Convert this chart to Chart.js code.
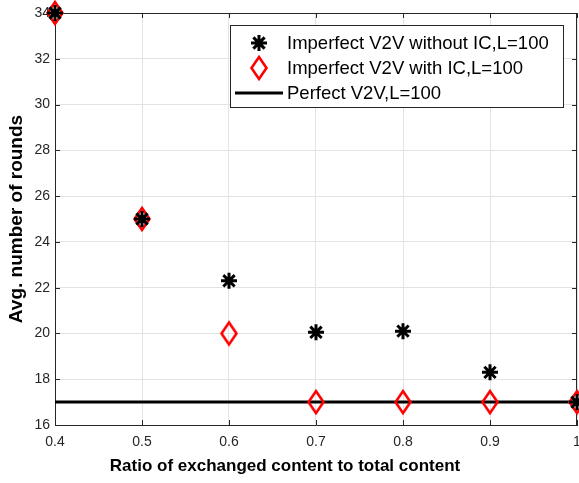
<!DOCTYPE html>
<html>
<head>
<meta charset="utf-8">
<script src="https://cdn.jsdelivr.net/npm/chart.js@4/dist/chart.umd.min.js"></script>
<style>
html,body{margin:0;padding:0;background:#fff;}
#wrap{width:579px;height:483px;position:relative;}
</style>
</head>
<body>
<div id="wrap"><canvas id="c" width="579" height="483"></canvas></div>
<script>
const xValues = [0.4, 0.5, 0.6, 0.7, 0.8, 0.9, 1.0];
const withoutIC = [34, 25, 22.3, 20.05, 20.1, 18.3, 17];
const withIC = [34, 25, 20, 17, 17, 17, 17];
const perfect = [17, 17, 17, 17, 17, 17, 17];
const xTicks = [0.4, 0.5, 0.6, 0.7, 0.8, 0.9, 1];
const yTicks = [16, 18, 20, 22, 24, 26, 28, 30, 32, 34];
const seriesLabels = ['Imperfect V2V without IC,L=100', 'Imperfect V2V with IC,L=100', 'Perfect V2V,L=100'];
const xTitle = 'Ratio of exchanged content to total content';
const yTitle = 'Avg. number of rounds';

const FONT = "'Liberation Sans', Arial, sans-serif";
const AXIS = '#262626';

function makeDiamond() {
  const c = document.createElement('canvas');
  c.width = 24; c.height = 30;
  const g = c.getContext('2d');
  g.strokeStyle = '#ff0000';
  g.lineWidth = 2.6;
  g.beginPath();
  g.moveTo(12, 4); g.lineTo(19.5, 15); g.lineTo(12, 26); g.lineTo(4.5, 15); g.closePath();
  g.stroke();
  return c;
}
const diamond = makeDiamond();

const pts = arr => xValues.map((x, i) => ({x: x, y: arr[i]}));

const frame = {
  id: 'frame',
  beforeDatasetsDraw(chart) {
    const {ctx, chartArea: a, scales} = chart;
    ctx.save();
    ctx.strokeStyle = AXIS;
    ctx.lineWidth = 1;
    ctx.beginPath();
    ctx.moveTo(a.left, a.top + 0.5); ctx.lineTo(a.right, a.top + 0.5);
    ctx.moveTo(a.right - 0.5, a.top); ctx.lineTo(a.right - 0.5, a.bottom);
    const L = 5;
    xTicks.forEach(v => {
      const px = Math.round(scales.x.getPixelForValue(v)) + 0.5;
      ctx.moveTo(px, a.bottom); ctx.lineTo(px, a.bottom - L);
      ctx.moveTo(px, a.top); ctx.lineTo(px, a.top + L);
    });
    yTicks.forEach(v => {
      const py = Math.round(scales.y.getPixelForValue(v)) + 0.5;
      ctx.moveTo(a.left, py); ctx.lineTo(a.left + L, py);
      ctx.moveTo(a.right, py); ctx.lineTo(a.right - L, py);
    });
    ctx.stroke();
    ctx.restore();
  },
  afterDatasetsDraw(chart) {
    const ctx = chart.ctx;
    ctx.save();
    const bx = 230.5, by = 25.5, bw = 333, bh = 82;
    ctx.fillStyle = '#ffffff';
    ctx.fillRect(bx, by, bw, bh);
    ctx.strokeStyle = AXIS;
    ctx.lineWidth = 1;
    ctx.strokeRect(bx, by, bw, bh);
    const rows = [43, 68, 93];
    const mx = 259;
    ctx.strokeStyle = '#000'; ctx.fillStyle = '#000'; ctx.lineWidth = 3;
    Chart.helpers.drawPoint(ctx, {pointStyle: 'star', radius: 8, borderWidth: 3}, mx, rows[0]);
    ctx.drawImage(diamond, mx - diamond.width / 2, rows[1] - diamond.height / 2);
    ctx.strokeStyle = '#000'; ctx.lineWidth = 3;
    ctx.beginPath(); ctx.moveTo(235, rows[2]); ctx.lineTo(283, rows[2]); ctx.stroke();
    ctx.fillStyle = '#000';
    ctx.font = '18.5px ' + FONT;
    ctx.textBaseline = 'middle';
    ctx.textAlign = 'left';
    seriesLabels.forEach((t, i) => ctx.fillText(t, 287, rows[i] + 1));
    // x-axis title
    ctx.font = 'bold 17px ' + FONT;
    ctx.textAlign = 'center';
    ctx.fillText(xTitle, 285, 466);
    ctx.restore();
  }
};

new Chart(document.getElementById('c'), {
  type: 'scatter',
  data: {
    datasets: [
      {label: seriesLabels[0], data: pts(withoutIC), pointStyle: 'star', pointRadius: 8, pointHoverRadius: 8,
       borderColor: '#000', backgroundColor: '#000', pointBorderWidth: 3, showLine: false, clip: false},
      {label: seriesLabels[1], data: pts(withIC), pointStyle: diamond, pointRadius: 12, pointHoverRadius: 12,
       borderColor: '#ff0000', backgroundColor: 'rgba(0,0,0,0)', showLine: false, clip: false},
      {label: seriesLabels[2], data: pts(perfect), showLine: true, pointRadius: 0, borderColor: '#000',
       borderWidth: 3, fill: false, clip: false}
    ]
  },
  options: {
    responsive: false,
    animation: false,
    events: [],
    layout: {autoPadding: false, padding: {top: 13, right: 2, left: 0, bottom: 0}},
    plugins: {legend: {display: false}, tooltip: {enabled: false}},
    scales: {
      x: {
        type: 'linear', min: 0.4, max: 1,
        afterBuildTicks: s => { s.ticks = xTicks.map(v => ({value: v})); },
        afterFit: s => { s.height = 58; s.paddingLeft = 0; s.paddingRight = 0; },
        ticks: {color: AXIS, font: {family: FONT, size: 14}, padding: 9, maxRotation: 0,
                callback: v => String(Math.round(v * 10) / 10)},
        grid: {color: '#e3e3e3', drawTicks: false},
        border: {color: AXIS, width: 1},
        title: {display: false}
      },
      y: {
        type: 'linear', min: 16, max: 34,
        afterBuildTicks: s => { s.ticks = yTicks.map(v => ({value: v})); },
        afterFit: s => { s.width = 55; s.paddingTop = 0; s.paddingBottom = 0; },
        ticks: {color: AXIS, font: {family: FONT, size: 14}, padding: 5},
        grid: {color: '#e3e3e3', drawTicks: false},
        border: {color: AXIS, width: 1},
        title: {display: true, text: yTitle, color: '#000', font: {family: FONT, size: 19, weight: 'bold'},
                padding: {top: 5, bottom: 0}}
      }
    }
  },
  plugins: [frame]
});
</script>
</body>
</html>
